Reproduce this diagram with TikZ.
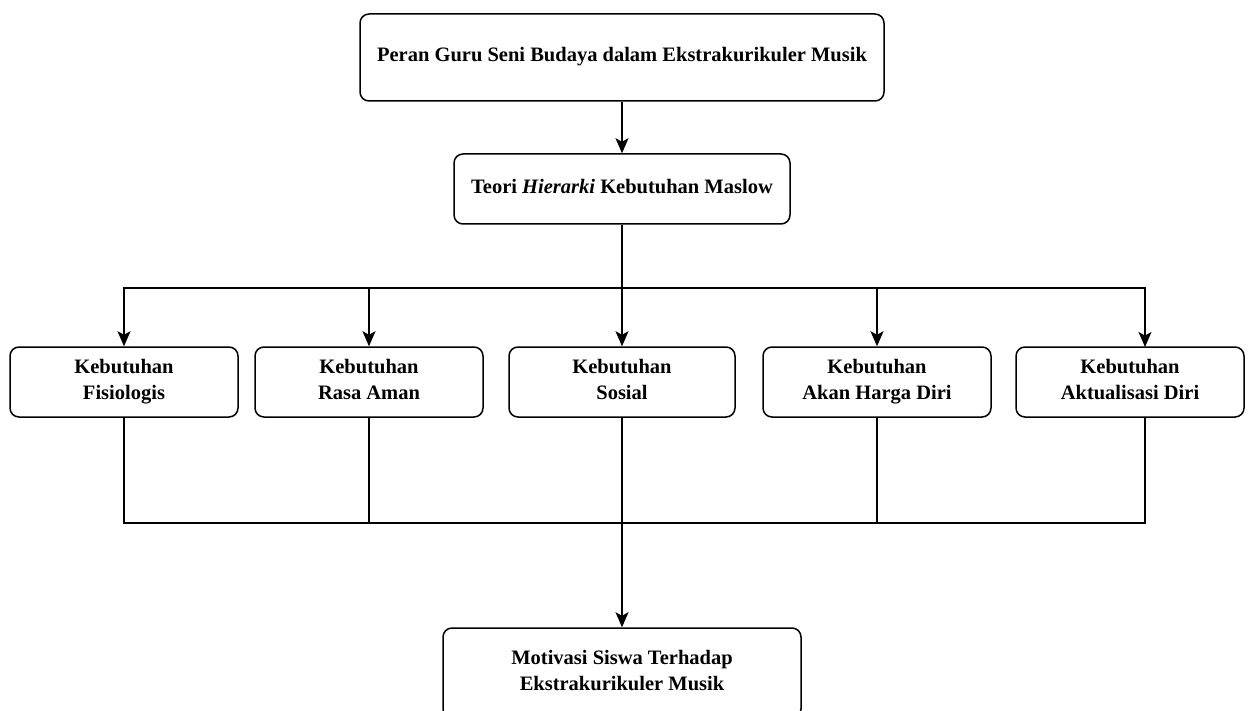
\documentclass[tikz,border=0pt]{standalone}
\usepackage{fontspec}
\setmainfont{Liberation Serif}
\usetikzlibrary{arrows.meta,calc}
\newcommand{\lstrut}{\rule[-6pt]{0pt}{20pt}}
\begin{document}
\begin{tikzpicture}[x=1pt,y=-1pt,
  box/.style={draw=black, line width=1.5pt, rounded corners=9pt, align=center,
    font=\fontsize{20.5}{26}\selectfont\bfseries, inner sep=0pt},
  link/.style={draw=black, line width=1.5pt},
  arr/.style={link, -{Stealth[length=15pt,width=13pt,inset=3.5pt]}}]
\useasboundingbox (0,0) rectangle (1249,711);
\clip (0,0) rectangle (1249,711);
\fill[white] (0,0) rectangle (1249,711);

\node[box, minimum width=524pt, minimum height=87pt] (top) at (622,57.5)
  {\lstrut Peran Guru Seni Budaya dalam Ekstrakurikuler Musik};
\node[box, minimum width=336pt, minimum height=70pt] (teori) at (622,189)
  {\lstrut Teori \textit{Hierarki} Kebutuhan Maslow};

\node[box, minimum width=228pt, minimum height=70pt] (k1) at (124,382) {\lstrut Kebutuhan\\\lstrut Fisiologis};
\node[box, minimum width=228pt, minimum height=70pt] (k2) at (369,382) {\lstrut Kebutuhan\\\lstrut Rasa Aman};
\node[box, minimum width=226pt, minimum height=70pt] (k3) at (622,382) {\lstrut Kebutuhan\\\lstrut Sosial};
\node[box, minimum width=228pt, minimum height=70pt] (k4) at (877,382) {\lstrut Kebutuhan\\\lstrut Akan Harga Diri};
\node[box, minimum width=228pt, minimum height=70pt] (k5) at (1130,382) {\lstrut Kebutuhan\\\lstrut Aktualisasi Diri};

\node[box, minimum width=358pt, minimum height=90pt] (motiv) at (622,673)
  {\lstrut Motivasi Siswa Terhadap\\\lstrut Ekstrakurikuler Musik};

\coordinate (hub) at (622,288);
\coordinate (hubb) at (622,523);
\coordinate (k5in) at (1145,347);
\coordinate (k5out) at (1145,417);

\draw[arr] (top) -- (teori);
\draw[link] (teori.south) -- (hub);
\draw[arr] (hub) -| (k1.north);
\draw[arr] (hub) -| (k2.north);
\draw[arr] (hub) -- (k3.north);
\draw[arr] (hub) -| (k4.north);
\draw[arr] (hub) -| (k5in);

\draw[link] (k1.south) |- (hubb);
\draw[link] (k2.south) |- (hubb);
\draw[link] (k4.south) |- (hubb);
\draw[link] (k5out) |- (hubb);
\draw[link] (k3.south) -- (hubb);
\draw[arr] (hubb) -- (motiv.north);
\end{tikzpicture}
\end{document}
